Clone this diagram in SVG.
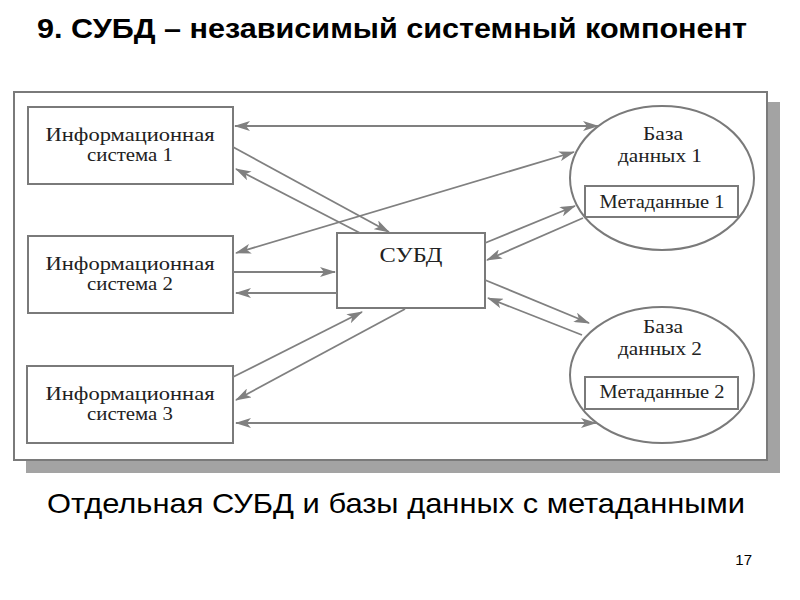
<svg xmlns="http://www.w3.org/2000/svg" width="800" height="600" viewBox="0 0 800 600">
<style>
.box{fill:#fff;stroke:#7a7a7a;stroke-width:2}
.line{fill:none;stroke:#808080;stroke-width:1.8}
.ser{font-family:"Liberation Serif","Times New Roman",serif;fill:#222;text-anchor:middle}
.is{font-size:19px}
.db{font-size:18px}
.sans{font-family:"Liberation Sans",Arial,sans-serif;fill:#000}
</style>
<defs>
<marker id="ah" viewBox="0 0 16 10" refX="15" refY="5" markerWidth="16" markerHeight="10" markerUnits="userSpaceOnUse" orient="auto-start-reverse">
<path d="M0,0 L16,5 L0,10 L4,5 z" fill="#808080"/>
</marker>
</defs>
<rect width="800" height="600" fill="#fff"/>
<text class="sans" x="37" y="38" font-size="28" font-weight="bold" textLength="710" lengthAdjust="spacingAndGlyphs">9. СУБД – независимый системный компонент</text>

<g id="frame">
<rect x="767" y="102" width="13" height="371" fill="#a3a3a3"/>
<rect x="26" y="460" width="754" height="13" fill="#a3a3a3"/>
<rect x="14" y="92" width="753" height="368" fill="#fff" stroke="#7a7a7a" stroke-width="2"/>
</g>

<g id="is1">
<rect class="box" x="28" y="107" width="205" height="77"/>
<text class="ser is" x="130" y="141" textLength="169" lengthAdjust="spacingAndGlyphs">Информационная</text>
<text class="ser is" x="130" y="161" textLength="86" lengthAdjust="spacingAndGlyphs">система 1</text>
</g>
<g id="is2">
<rect class="box" x="28" y="236" width="205" height="77"/>
<text class="ser is" x="130" y="270" textLength="169" lengthAdjust="spacingAndGlyphs">Информационная</text>
<text class="ser is" x="130" y="290" textLength="86" lengthAdjust="spacingAndGlyphs">система 2</text>
</g>
<g id="is3">
<rect class="box" x="27" y="366" width="206" height="77"/>
<text class="ser is" x="130" y="400" textLength="169" lengthAdjust="spacingAndGlyphs">Информационная</text>
<text class="ser is" x="130" y="420" textLength="86" lengthAdjust="spacingAndGlyphs">система 3</text>
</g>
<g id="dbms">
<rect class="box" x="337" y="233" width="148" height="75"/>
<text class="ser" x="411" y="262" font-size="21" textLength="63" lengthAdjust="spacingAndGlyphs">СУБД</text>
</g>
<g id="db1">
<ellipse class="box" cx="662" cy="178" rx="92" ry="72"/>
<text class="ser db" x="663" y="140" textLength="40" lengthAdjust="spacingAndGlyphs">База</text>
<text class="ser db" x="660" y="162" textLength="84" lengthAdjust="spacingAndGlyphs">данных 1</text>
<rect class="box" x="585" y="186" width="153" height="31"/>
<text class="ser db" x="662" y="208" textLength="125" lengthAdjust="spacingAndGlyphs">Метаданные 1</text>
</g>
<g id="db2">
<ellipse class="box" cx="662" cy="375" rx="92" ry="68"/>
<text class="ser db" x="663" y="333" textLength="40" lengthAdjust="spacingAndGlyphs">База</text>
<text class="ser db" x="660" y="355" textLength="84" lengthAdjust="spacingAndGlyphs">данных 2</text>
<rect class="box" x="585" y="377" width="153" height="32"/>
<text class="ser db" x="662" y="398" textLength="125" lengthAdjust="spacingAndGlyphs">Метаданные 2</text>
</g>

<g id="connectors">
<line class="line" x1="235" y1="126" x2="598" y2="126" marker-start="url(#ah)" marker-end="url(#ah)"/>
<line class="line" x1="233" y1="147" x2="389" y2="232" marker-end="url(#ah)"/>
<line class="line" x1="360" y1="233" x2="236" y2="169" marker-end="url(#ah)"/>
<line class="line" x1="236" y1="253" x2="574" y2="152" marker-start="url(#ah)" marker-end="url(#ah)"/>
<line class="line" x1="233" y1="272" x2="335" y2="272" marker-end="url(#ah)"/>
<line class="line" x1="337" y1="293" x2="236" y2="293" marker-end="url(#ah)"/>
<line class="line" x1="233" y1="377" x2="362" y2="312" marker-end="url(#ah)"/>
<line class="line" x1="405" y1="309" x2="236" y2="400" marker-end="url(#ah)"/>
<line class="line" x1="236" y1="423" x2="596" y2="423" marker-start="url(#ah)" marker-end="url(#ah)"/>
<line class="line" x1="485" y1="243" x2="575" y2="206" marker-end="url(#ah)"/>
<line class="line" x1="583" y1="218" x2="487" y2="260" marker-end="url(#ah)"/>
<line class="line" x1="485" y1="280" x2="589" y2="323" marker-end="url(#ah)"/>
<line class="line" x1="582" y1="335" x2="488" y2="298" marker-end="url(#ah)"/>
</g>

<text class="sans" x="47" y="513" font-size="28" textLength="698" lengthAdjust="spacingAndGlyphs">Отдельная СУБД и базы данных с метаданными</text>
<text class="sans" x="752" y="565" font-size="15" fill="#333" text-anchor="end">17</text>
</svg>
